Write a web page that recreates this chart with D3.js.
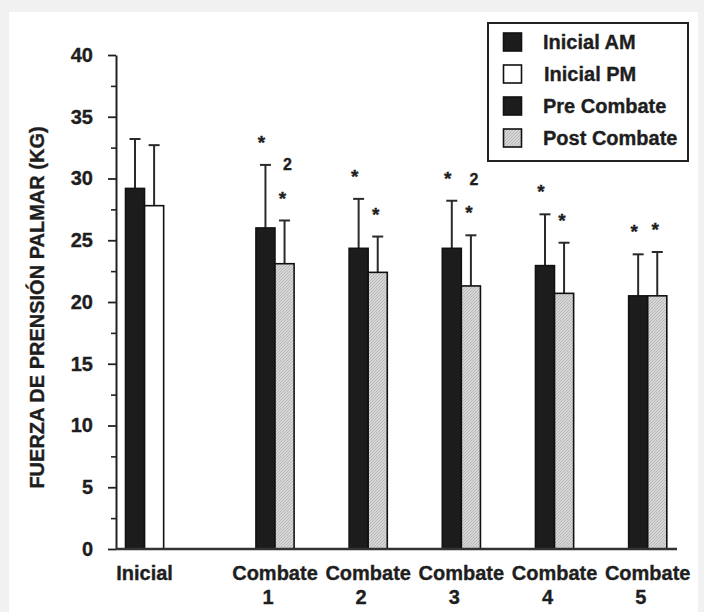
<!DOCTYPE html>
<html>
<head>
<meta charset="utf-8">
<script src="https://cdn.jsdelivr.net/npm/d3@7"></script>
<style>
  body { margin: 0; background: #f1f1f1; }
  svg { display: block; }
  text { font-family: "Liberation Sans", Arial, Helvetica, sans-serif; font-weight: bold; fill: #1e1e1e; stroke: #1e1e1e; stroke-width: 0.35px; }
</style>
</head>
<body>
<div id="chart"></div>
<script>
// values
var categories = ["Inicial", "Combate 1", "Combate 2", "Combate 3", "Combate 4", "Combate 5"];
var firstMean = [29.2, 26.0, 24.35, 24.35, 22.95, 20.5];   // Inicial AM / Pre Combate
var firstSD   = [4.0, 5.1, 4.0, 3.85, 4.15, 3.36];
var secondMean = [27.8, 23.1, 22.4, 21.3, 20.7, 20.5];     // Inicial PM / Post Combate
var secondSD   = [4.9, 3.5, 2.9, 4.1, 4.1, 3.55];
var starFirst  = [false, true, true, true, true, true];
var starSecond = [false, true, true, true, true, true];
var mark2      = [false, true, false, true, false, false];
var legendLabels = ["Inicial AM", "Inicial PM", "Pre Combate", "Post Combate"];
var yTicks = [0, 5, 10, 15, 20, 25, 30, 35, 40];

var width = 704, height = 612;

var svg = d3.select("#chart").append("svg")
  .attr("width", width)
  .attr("height", height);

var defs = svg.append("defs");
var pat = defs.append("pattern")
  .attr("id", "hatch")
  .attr("patternUnits", "userSpaceOnUse")
  .attr("width", 3)
  .attr("height", 3);
pat.append("rect").attr("width", 3).attr("height", 3).attr("fill", "#d6d6d6");
pat.append("path").attr("d", "M-1,1 l2,-2 M0,3 l3,-3 M2,4 l2,-2")
  .attr("stroke", "#b0b0b0").attr("stroke-width", 0.8);

// background panel
svg.append("rect").attr("width", width).attr("height", height).attr("fill", "#f1f1f1");
svg.append("rect").attr("x", 9).attr("y", 12).attr("width", 689).attr("height", 600).attr("fill", "#fff");

var y = d3.scaleLinear().domain([0, 40]).range([549, 55]);
// combate groups are evenly spaced; the Inicial group sits a bit further left
var xs = d3.scaleLinear().domain([1, 5]).range([275, 647.7]);
function groupX(i) { return i === 0 ? xs(-0.4) : xs(i); }
var barW = (xs(2) - xs(1)) * 0.205;

var rows = categories.map(function(c, i) {
  return { cat: c, i: i, m1: firstMean[i], s1: firstSD[i], m2: secondMean[i], s2: secondSD[i] };
});

// y axis minor ticks
svg.append("g")
  .attr("transform", "translate(116,0)")
  .call(d3.axisLeft(y).tickValues(d3.range(2.5, 40, 5)).tickSize(5).tickFormat(""))
  .call(function(g) { g.select(".domain").remove(); })
  .selectAll("line").attr("stroke", "#222").attr("stroke-width", 1.6);

// y axis major
var yAxis = svg.append("g")
  .attr("transform", "translate(116,0)")
  .call(d3.axisLeft(y).tickValues(yTicks).tickSize(8).tickSizeOuter(0).tickPadding(15));
yAxis.select(".domain").attr("stroke", "#222").attr("stroke-width", 2);
yAxis.selectAll("line").attr("stroke", "#222").attr("stroke-width", 1.8);
yAxis.selectAll("text").attr("font-size", 20).attr("fill", "#1e1e1e")
  .attr("font-family", "Liberation Sans, Arial, sans-serif").attr("font-weight", "bold");

svg.append("text")
  .attr("transform", "translate(44," + ((121 + 494) / 2) + ") rotate(-90)")
  .attr("text-anchor", "middle")
  .attr("font-size", 20)
  .text("FUERZA DE PRENSIÓN PALMAR (KG)");

// error bars (drawn first so bars cover lower half)
function errBar(cx, m, s) {
  var g = svg.append("g").attr("stroke", "#2a2a2a").attr("stroke-width", 2);
  g.append("line").attr("x1", cx).attr("x2", cx).attr("y1", y(m)).attr("y2", y(m + s));
  g.append("line").attr("x1", cx - 5.5).attr("x2", cx + 5.5).attr("y1", y(m + s)).attr("y2", y(m + s));
}
rows.forEach(function(d) {
  errBar(groupX(d.i) - barW / 2, d.m1, d.s1);
  errBar(groupX(d.i) + barW / 2, d.m2, d.s2);
});

// bars
var bars = svg.append("g");
bars.selectAll("rect.first").data(rows).enter().append("rect")
  .attr("class", "first")
  .attr("x", function(d) { return groupX(d.i) - barW; })
  .attr("y", function(d) { return y(d.m1); })
  .attr("width", barW)
  .attr("height", function(d) { return y(0) - y(d.m1); })
  .attr("fill", "#1c1c1c")
  .attr("stroke", "#111").attr("stroke-width", 1.5);
bars.selectAll("rect.second").data(rows).enter().append("rect")
  .attr("class", "second")
  .attr("x", function(d) { return groupX(d.i); })
  .attr("y", function(d) { return y(d.m2); })
  .attr("width", barW)
  .attr("height", function(d) { return y(0) - y(d.m2); })
  .attr("fill", function(d) { return d.i === 0 ? "#fff" : "url(#hatch)"; })
  .attr("stroke", "#111").attr("stroke-width", 1.6);

// x axis line
svg.append("line")
  .attr("x1", 116).attr("x2", 677)
  .attr("y1", y(0)).attr("y2", y(0))
  .attr("stroke", "#333").attr("stroke-width", 2.4);

// significance marks
var starFs = 19;
rows.forEach(function(d) {
  var t1 = y(d.m1 + d.s1), t2 = y(d.m2 + d.s2);
  if (starFirst[d.i]) {
    svg.append("text").attr("x", groupX(d.i) - barW / 2 - 4).attr("y", t1 - 27 + starFs * 0.58)
      .attr("text-anchor", "middle").attr("font-size", starFs).text("*");
  }
  if (starSecond[d.i]) {
    svg.append("text").attr("x", groupX(d.i) + barW / 2 - 2).attr("y", t2 - 27 + starFs * 0.58)
      .attr("text-anchor", "middle").attr("font-size", starFs).text("*");
  }
  if (mark2[d.i]) {
    svg.append("text").attr("x", groupX(d.i) + barW / 2 + 3).attr("y", t2 - 56 + 6)
      .attr("text-anchor", "middle").attr("font-size", 16).text("2");
  }
});

// x labels
rows.forEach(function(d) {
  var parts = d.cat.split(" ");
  svg.append("text")
    .attr("x", groupX(d.i))
    .attr("y", 580)
    .attr("text-anchor", "middle")
    .attr("font-size", 20)
    .text(parts[0]);
  if (parts[1]) {
    svg.append("text")
      .attr("x", groupX(d.i) - 7)
      .attr("y", 604)
      .attr("text-anchor", "middle")
      .attr("font-size", 20)
      .text(parts[1]);
  }
});

// legend
var leg = svg.append("g").attr("transform", "translate(488,23)");
leg.append("rect").attr("width", 200).attr("height", 138)
  .attr("fill", "#fff").attr("stroke", "#222").attr("stroke-width", 2);
var swFill = ["#1c1c1c", "#fff", "#1c1c1c", "url(#hatch)"];
var ly = d3.scalePoint().domain(legendLabels).range([19, 115]);
legendLabels.forEach(function(l, i) {
  leg.append("rect").attr("x", 15.5).attr("y", ly(l) - 9).attr("width", 18).attr("height", 18)
    .attr("fill", swFill[i]).attr("stroke", "#111").attr("stroke-width", 1.6);
  leg.append("text").attr("x", i === 1 ? 56 : 55).attr("y", ly(l) + 7)
    .attr("font-size", 20).text(l);
});
</script>
</body>
</html>
